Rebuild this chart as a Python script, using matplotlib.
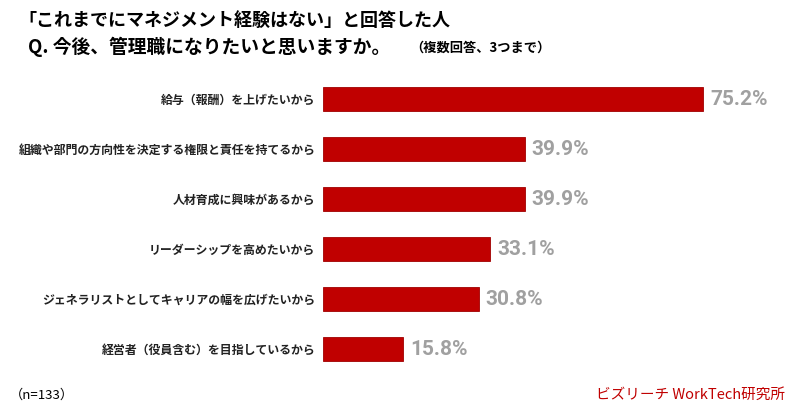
import matplotlib.pyplot as plt

plt.rcParams['font.family'] = ['Noto Sans CJK JP', 'DejaVu Sans']

#<======Data==========>
reasons = [
    "給与（報酬）を上げたいから",
    "組織や部門の方向性を決定する権限と責任を持てるから",
    "人材育成に興味があるから",
    "リーダーシップを高めたいから",
    "ジェネラリストとしてキャリアの幅を広げたいから",
    "経営者（役員含む）を目指しているから",
]
percent = [75.2, 39.9, 39.9, 33.1, 30.8, 15.8]

title1 = "「これまでにマネジメント経験はない」と回答した人"
title2 = "Q. 今後、管理職になりたいと思いますか。"
note = "（複数回答、3つまで）"
n_text = "（n=133）"
source = "ビズリーチ WorkTech研究所"

#<======Figure==========>
fig = plt.figure(figsize=(8, 4.2), dpi=100)
ax = fig.add_axes([0.40375, 0.1095, 0.5625, 0.714])

y = list(range(len(reasons)))
ax.barh(y, percent, height=0.48, color='#C00000', edgecolor='#A00000', linewidth=0.6)
ax.set_ylim(len(reasons) - 0.5, -0.5)
ax.set_xlim(0, 450 / 5.053)

ax.set_yticks(y)
ax.set_yticklabels(reasons, fontsize=8.6, fontweight='bold', color='#222222')
ax.tick_params(axis='y', length=0, pad=5.5)
ax.set_xticks([])
for s in ax.spines.values():
    s.set_visible(False)

for yi, v in zip(y, percent):
    ax.annotate(f"{v}%", (v, yi), xytext=(5, 0), textcoords='offset points',
                va='center', ha='left', fontsize=15, fontweight='bold',
                color='#A0A0A0', family=['Roboto', 'DejaVu Sans'])

#<======Titles==========>
fig.text(18 / 800, 1 - 20 / 420, title1, fontsize=13, fontweight='bold', va='center', ha='left')
fig.text(28 / 800, 1 - 47 / 420, title2, fontsize=13.5, fontweight='bold', va='center', ha='left')
fig.text(410 / 800, 1 - 48 / 420, note, fontsize=9.5, fontweight='bold', va='center', ha='left')

fig.text(10 / 800, 1 - 395 / 420, n_text, fontsize=9.5, va='center', ha='left')
fig.text(785 / 800, 1 - 395 / 420, source, fontsize=10.5, va='center', ha='right', color='#C00000')

fig.savefig("out.png", dpi=100)
